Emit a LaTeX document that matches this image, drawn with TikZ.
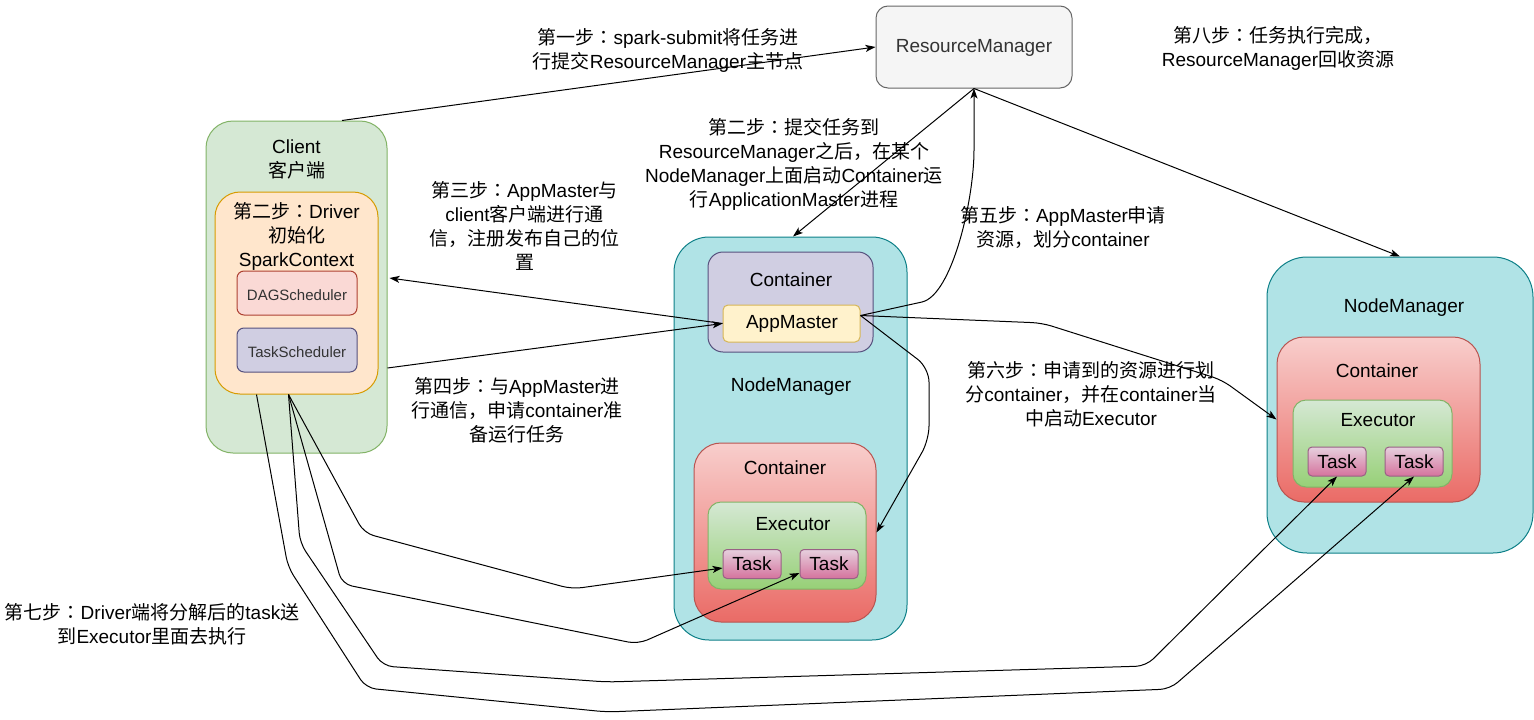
\documentclass[tikz,border=0pt]{standalone}
\usepackage{fontspec}
\setmainfont{Liberation Sans}
\newfontfamily\cjk{Noto Sans CJK SC}
\newfontfamily\cjkjp{Noto Sans CJK JP}
\newcommand\zh[1]{{\cjk #1}}
\newcommand\colonzh{{\cjkjp ：}}
\usetikzlibrary{arrows.meta,calc}
\definecolor{rmF}{HTML}{F5F5F5}\definecolor{rmD}{HTML}{666666}
\definecolor{clF}{HTML}{D5E8D4}\definecolor{clD}{HTML}{82B366}
\definecolor{drF}{HTML}{FFE6CC}\definecolor{drD}{HTML}{D79B00}
\definecolor{dgF}{HTML}{FAD9D5}\definecolor{dgD}{HTML}{AE4132}
\definecolor{puF}{HTML}{D0CEE2}\definecolor{puD}{HTML}{56517E}
\definecolor{nmF}{HTML}{B0E3E6}\definecolor{nmD}{HTML}{0E8088}
\definecolor{amF}{HTML}{FFF2CC}\definecolor{amD}{HTML}{D6B656}
\definecolor{rdT}{HTML}{F8CECC}\definecolor{rdB}{HTML}{EA6B66}\definecolor{rdD}{HTML}{B85450}
\definecolor{grT}{HTML}{D5E8D4}\definecolor{grB}{HTML}{97D077}\definecolor{grD}{HTML}{82B366}
\definecolor{tkT}{HTML}{E6D0DE}\definecolor{tkB}{HTML}{D5739D}\definecolor{tkD}{HTML}{996185}
\definecolor{txtgray}{HTML}{333333}
\begin{document}
\begin{tikzpicture}[x=1pt,y=-1pt,
  box/.style={draw, line width=1pt, inner sep=0pt},
  sz/.style 2 args={minimum width=#1pt, minimum height=#2pt},
  txt/.style={align=center, inner sep=0pt, font=\fontsize{19}{24}\selectfont},
  stxt/.style={align=center, inner sep=0pt, font=\fontsize{15}{18}\selectfont, text=txtgray},
  redbox/.style={box, top color=rdT, bottom color=rdB, draw=rdD},
  greenbox/.style={box, top color=grT, bottom color=grB, draw=grD},
  taskbox/.style={box, top color=tkT, bottom color=tkB, draw=tkD, sz={58}{29}, rounded corners=4pt},
  conn/.style={line width=1pt, -{Stealth[length=10pt,width=7pt,inset=2.5pt]}, rounded corners=10pt}]
\fill[white] (0,0) rectangle (1534,720);
\useasboundingbox (0,0) rectangle (1534,720);

% ResourceManager
\node[box, sz={196}{82}, rounded corners=12pt, fill=rmF, draw=rmD] (rm) at (974,47) {};
\node[txt, text=txtgray] (rmt) at (974,48) {ResourceManager};

% Client
\node[box, sz={181}{332}, rounded corners=27pt, fill=clF, draw=clD] (client) at (296.5,287) {};
\node[txt] (clientt) at (296.5,159) {Client\\\zh{客户端}};
\node[box, sz={163}{202}, rounded corners=25pt, fill=drF, draw=drD] (driver) at (296.5,293) {};
\node[txt] (drivert) at (296.5,236) {\zh{第二步}\colonzh Driver\\\zh{初始化}\\SparkContext};
\node[box, sz={120}{44}, rounded corners=7pt, fill=dgF, draw=dgD] (dag) at (297,293) {};
\node[stxt] (dagt) at (297,295) {DAGScheduler};
\node[box, sz={120}{44}, rounded corners=7pt, fill=puF, draw=puD] (tsch) at (297,350) {};
\node[stxt] (tscht) at (297,352) {TaskScheduler};

% middle NodeManager
\node[box, sz={233}{403}, rounded corners=35pt, fill=nmF, draw=nmD] (nm1) at (790.5,438.5) {};
\node[box, sz={165}{100}, rounded corners=15pt, fill=puF, draw=puD] (c1) at (790.5,302) {};
\node[txt] (c1t) at (791,280) {Container};
\node[box, sz={137}{37}, rounded corners=5pt, fill=amF, draw=amD] (am) at (791.5,323.5) {};
\node[txt] (amt) at (792,324) {AppMaster};
\node[txt] (nm1t) at (791,387) {NodeManager};
\node[redbox, sz={182}{179}, rounded corners=27pt] (c2) at (785,532.5) {};
\node[txt] (c2t) at (785,468) {Container};
\node[greenbox, sz={158}{87}, rounded corners=13pt] (ex1) at (787,545.5) {};
\node[txt] (ex1t) at (793,524) {Executor};
\node[taskbox] (t1) at (752,564) {};
\node[txt] (t1t) at (752,564) {Task};
\node[taskbox] (t2) at (829,564) {};
\node[txt] (t2t) at (829,564) {Task};

% right NodeManager
\node[box, sz={266}{296}, rounded corners=40pt, fill=nmF, draw=nmD] (nm2) at (1400,405) {};
\node[txt] (nm2t) at (1404,308) {NodeManager};
\node[redbox, sz={203}{165}, rounded corners=27pt] (c3) at (1378.5,419.5) {};
\node[txt] (c3t) at (1377,371) {Container};
\node[greenbox, sz={159}{87}, rounded corners=13pt] (ex2) at (1372.5,443.5) {};
\node[txt] (ex2t) at (1378,420) {Executor};
\node[taskbox] (t3) at (1337,461.5) {};
\node[txt] (t3t) at (1337,461.5) {Task};
\node[taskbox] (t4) at (1414,461.5) {};
\node[txt] (t4t) at (1414,461.5) {Task};

% step labels
\node[txt] (s1) at (668,50) {\zh{第一步}\colonzh spark-submit\zh{将任务进}\\\zh{行提交}ResourceManager\zh{主节点}};
\node[txt] (s8) at (1278,48) {\zh{第八步}\colonzh\zh{任务执行完成，}\\ResourceManager\zh{回收资源}};
\node[txt] (s2) at (794,164) {\zh{第二步}\colonzh\zh{提交任务到}\\ResourceManager\zh{之后，在某个}\\NodeManager\zh{上面启动}Container\zh{运}\\\zh{行}ApplicationMaster\zh{进程}};
\node[txt] (s3) at (524.5,226) {\zh{第三步}\colonzh AppMaster\zh{与}\\client\zh{客户端进行通}\\\zh{信，注册发布自己的位}\\\zh{置}};
\node[txt] (s5) at (1063,227) {\zh{第五步}\colonzh AppMaster\zh{申请}\\\zh{资源，划分}container};
\node[txt] (s4) at (517,410) {\zh{第四步}\colonzh\zh{与}AppMaster\zh{进}\\\zh{行通信，申请}container\zh{准}\\\zh{备运行任务}};
\node[txt] (s6) at (1091,394) {\zh{第六步}\colonzh\zh{申请到的资源进行划}\\\zh{分}container\zh{，并在}container\zh{当}\\\zh{中启动}Executor};
\node[txt] (s7) at (152,624) {\zh{第七步}\colonzh Driver\zh{端将分解后的}task\zh{送}\\\zh{到}Executor\zh{里面去执行}};

% helper coordinates
\coordinate (amr) at ($(am.east)+(0,-8)$);
\coordinate (cltop) at ($(client.north)+(45.5,0)$);
\coordinate (drv1) at ($(driver.south)+(-8,0)$);
\coordinate (drv2) at ($(driver.south)+(-40,0)$);

% connectors
\draw[conn] (cltop) -- (rm.west);
\draw[conn] (rm.south) -- ($(nm1.north)+(2.5,0)$);
\draw[conn] (rm.south) -- (nm2.north);
\draw[conn] (am.west) -- ($(client.east)+(2,-9)$);
\draw[conn] ($(client.east)+(0,81)$) -- (am.west);
\draw[conn, sharp corners] (amr) -- (922,302) .. controls (952,295) and (974,200) .. (974,150) -- (rm.south);
\draw[conn] (amr) -- (1042,323) -- (1222,380) -- (c3.west);
\draw[conn, rounded corners=14pt] (amr) -- (929,368) -- (929,440) -- (c2.east);
\draw[conn] (drv1) -- (364,533) -- (572,589) -- ($(t1.west)+(0,4)$);
\draw[conn] (drv1) -- (342,584) -- (638,644) -- ($(t2.south west)+(0,-6)$);
\draw[conn] (drv1) -- (300,543) -- (383,666) -- (607,682) -- (1146,666) -- (t3.south);
\draw[conn] (drv2) -- (288,567) -- (366,688) -- (607,712) -- (1170,689) -- (t4.south);
\end{tikzpicture}
\end{document}
